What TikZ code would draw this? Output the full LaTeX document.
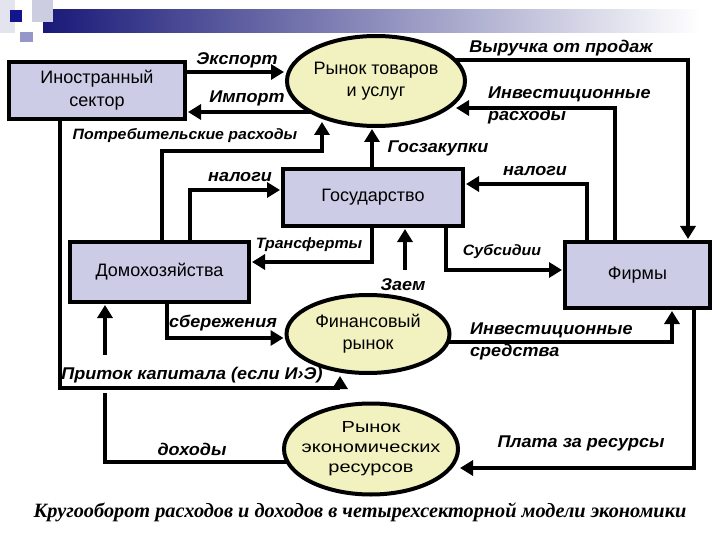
\documentclass[tikz,border=0pt]{standalone}
\usepackage{fontspec}
\setmainfont{Liberation Sans}
\newfontfamily\lblfont[FakeStretch=1.06]{Liberation Sans}
\newfontfamily\resfont[FakeStretch=1.25]{Liberation Sans}
\newfontfamily\capfont{Liberation Serif}
\usetikzlibrary{arrows.meta,shapes.geometric,backgrounds,calc}
\definecolor{boxfill}{RGB}{204,204,230}
\definecolor{ellfill}{RGB}{242,242,192}
\definecolor{navy}{RGB}{25,25,120}
\definecolor{midbar}{RGB}{150,150,195}
\tikzset{
  box/.style={draw=black, line width=4pt, fill=boxfill, align=center, inner sep=0pt,
    font=\fontsize{18}{23}\selectfont},
  oval/.style={ellipse, draw=black, line width=4pt, fill=ellfill, align=center, inner sep=0pt,
    font=\fontsize{18}{22}\selectfont},
  flow/.style={line width=4.5pt, line join=miter, -{Triangle[length=13pt,width=15pt]}, shorten >=1pt},
  flowline/.style={line width=4.5pt, line join=miter},
  lbl/.style={font=\lblfont\fontsize{17}{22}\selectfont\bfseries\itshape, inner sep=0pt},
  slbl/.style={font=\lblfont\fontsize{15}{20}\selectfont\bfseries\itshape, inner sep=0pt},
}
\begin{document}
\begin{tikzpicture}[x=1pt,y=-1pt]
\useasboundingbox (0,0) rectangle (720,540);
% header decoration
\shade[left color=navy, middle color=midbar, right color=white] (43,10) rectangle (700,33);
\fill[color={rgb,255:red,228;green,228;blue,238}] (0,0) rectangle (15,33);
\fill[color={rgb,255:red,205;green,205;blue,225}] (32,0) rectangle (53,22);
\fill[color={rgb,255:red,20;green,20;blue,140}] (10,10) rectangle (22,22);
\fill[color={rgb,255:red,150;green,150;blue,200}] (20,32) rectangle (33,42);

% nodes
\node[box, minimum width=176pt, minimum height=57pt] (inos) at (97,90.5) {Иностранный\\сектор};
\node[box, minimum width=180pt, minimum height=57pt] (gos) at (373,197.5) {Государство};
\node[box, minimum width=179pt, minimum height=60pt] (dom) at (159.5,272) {Домохозяйства};
\node[box, minimum width=145pt, minimum height=66pt] (firm) at (637.5,275) {Фирмы};
\node[oval, minimum width=178pt, minimum height=90pt] (rynok) at (376,81) {Рынок товаров\\и услуг};
\node[oval, minimum width=163pt, minimum height=78pt] (fin) at (368,334) {Финансовый\\рынок};
\node[oval, minimum width=174pt, minimum height=91pt] (res) at (371,449) {};
\node[align=center, inner sep=0pt, font=\resfont\fontsize{16}{20}\selectfont] (restext) at (res.center) {Рынок\\экономических\\ресурсов};

\coordinate (zaem0) at (405,270);
\coordinate (gapA) at (105,393);
\coordinate (gapB) at (105,355);

\begin{scope}[on background layer]
\draw[flow] (inos.east |- 0,72) -- (rynok.west |- 0,72);
\draw[flow] (rynok.center |- 0,112) -- (inos.east |- 0,112);
\draw[flow] (inos.south -| 60,0) -- (60,388) -- (340,388) -- (340,0 |- fin.south);
\draw[flow] (dom.north -| 162,0) -- (162,151) -- (322,151) -- (322,121);
\draw[flow] (dom.north -| 190,0) -- (190,190) -- (gos.west |- 0,190);
\draw[flow] (gos.north -| 372,0) -- (372,0 |- rynok.south);
\draw[flow] (gos.south -| 372,0) -- (372,262) -- (dom.east |- 0,262);
\draw[flow] (zaem0) -- (zaem0 |- gos.south);
\draw[flow] (gos.south -| 446,0) -- (446,270) -- (firm.west |- 0,270);
\draw[flow] (firm.north -| 587,0) -- (587,184) -- (gos.east |- 0,184);
\draw[flow] (firm.north -| 615,0) -- (615,108) -- ($(rynok.center)+(79,27)$);
\draw[flow] (rynok.center |- 0,60) -- (688,60) -- (firm.north -| 688,0);
\draw[flow] (firm.south -| 694,0) -- (694,468) -- ($(res.center)+(88,19)$);
\draw[flowline] (res.center |- 0,462) -- (105,462) -- (gapA);
\draw[flow] (gapB) -- (dom.south -| 105,0);
\draw[flow] (dom.south -| 167,0) -- (167,338) -- (fin.west |- 0,338);
\draw[flow] (fin.center |- 0,342) -- (672,342) -- (firm.south -| 672,0);
\end{scope}

% labels
\node[lbl] at (237,60) {Экспорт};
\node[lbl] at (247,98) {Импорт};
\node[lbl] at (192,375) {Приток капитала (если И›Э)};
\node[slbl] at (185,136) {Потребительские расходы};
\node[lbl] at (240,177) {налоги};
\node[lbl] at (438,148) {Госзакупки};
\node[slbl] at (309,245) {Трансферты};
\node[lbl] at (403,285) {Заем};
\node[slbl] at (502,252) {Субсидии};
\node[lbl] at (535,171) {налоги};
\node[lbl, anchor=west, align=left] at (488,105) {Инвестиционные\\расходы};
\node[lbl] at (561,48) {Выручка от продаж};
\node[lbl] at (581,443) {Плата за ресурсы};
\node[lbl] at (192,449) {доходы};
\node[lbl] at (223,323) {сбережения};
\node[lbl, anchor=west, align=left] at (470,341) {Инвестиционные\\средства};
\node[font=\capfont\fontsize{20.3}{22}\selectfont\bfseries\itshape, inner sep=0pt] (cap) at (360,512) {Кругооборот расходов и доходов в четырехсекторной модели экономики};
\end{tikzpicture}
\end{document}
